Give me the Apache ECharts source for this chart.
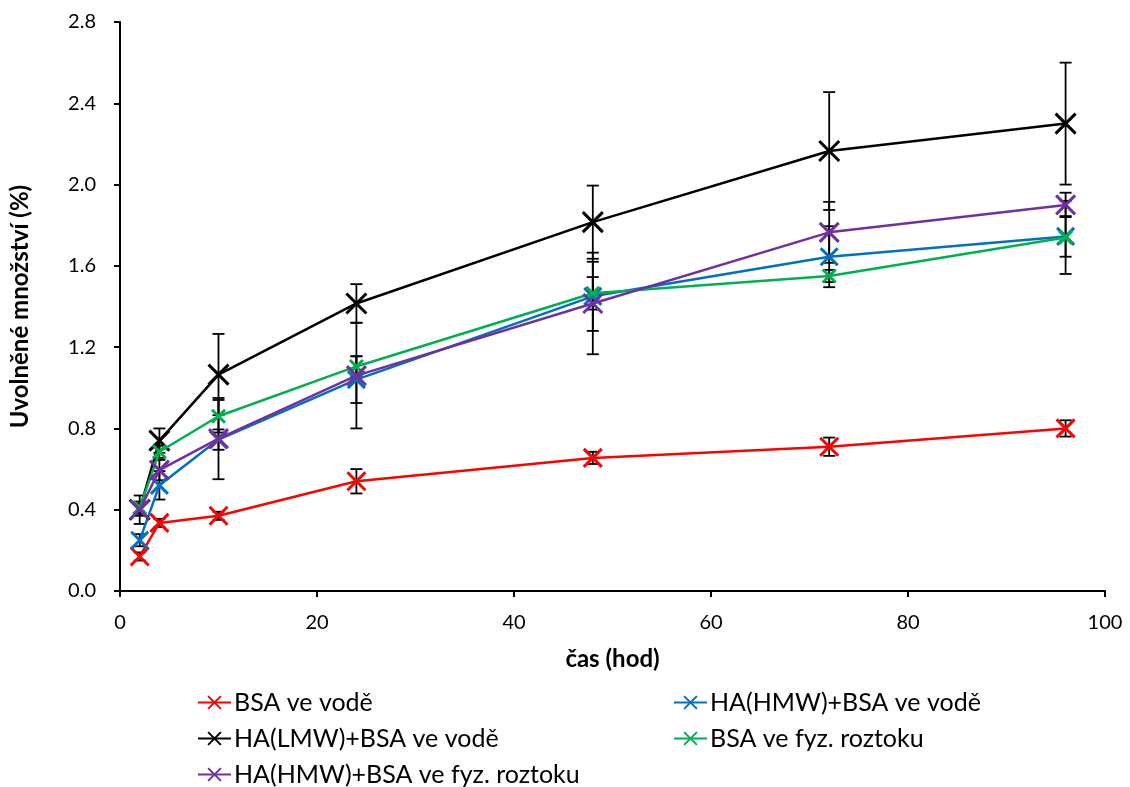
<!DOCTYPE html>
<html>
<head>
<meta charset="utf-8">
<script src="https://cdn.jsdelivr.net/npm/echarts@6/dist/echarts.min.js"></script>
<style>
html,body{margin:0;padding:0;background:#fff;}
#chart{width:1130px;height:787px;}
</style>
</head>
<body>
<div id="chart"></div>
<script>
const hours = [2, 4, 10, 24, 48, 72, 96];
const seriesNames = ['BSA ve vodě', 'HA(HMW)+BSA ve vodě', 'HA(LMW)+BSA ve vodě', 'BSA ve fyz. roztoku', 'HA(HMW)+BSA ve fyz. roztoku'];
const bsaWater      = [0.17, 0.335, 0.37, 0.54, 0.655, 0.71, 0.80];
const hmwWater      = [0.25, 0.52, 0.745, 1.04, 1.45, 1.645, 1.745];
const lmwWater      = [0.40, 0.74, 1.065, 1.415, 1.815, 2.165, 2.30];
const bsaSaline     = [0.41, 0.685, 0.86, 1.105, 1.465, 1.55, 1.74];
const hmwSaline     = [0.40, 0.595, 0.75, 1.06, 1.415, 1.765, 1.90];
const bsaWaterErr   = [0.02, 0.02, 0.02, 0.06, 0.03, 0.045, 0.04];
const hmwWaterErr   = [0.03, 0.07, 0.05, 0.115, 0.17, 0.15, 0.10];
const lmwWaterErr   = [0.07, 0.06, 0.20, 0.095, 0.18, 0.29, 0.30];
const bsaSalineErr  = [0.03, 0.03, 0.08, 0.05, 0.08, 0.03, 0.18];
const hmwSalineErr  = [0.03, 0.05, 0.20, 0.26, 0.25, 0.15, 0.06];
const yTicks = ['0.0','0.4','0.8','1.2','1.6','2.0','2.4','2.8'];

const values = [bsaWater, hmwWater, lmwWater, bsaSaline, hmwSaline];
const errors = [bsaWaterErr, hmwWaterErr, lmwWaterErr, bsaSalineErr, hmwSalineErr];
const colors = ['#ff0000', '#0070c0', '#000000', '#00b050', '#7030a0'];
const symSizes = [18, 17, 20, 13, 19];
const FONT = 'Lato';
const X = 'path://M0,0L10,10M10,0L0,10';

const chart = echarts.init(document.getElementById('chart'), null, {renderer: 'canvas'});

const series = [];
values.forEach((vals, i) => {
  series.push({
    name: 'err' + i,
    type: 'custom',
    silent: true,
    z: 1,
    data: hours.map((h, k) => [h, vals[k], errors[i][k]]),
    renderItem: function (params, api) {
      const x = api.value(0), y = api.value(1), e = api.value(2);
      const top = api.coord([x, y + e]);
      const bot = api.coord([x, y - e]);
      const w = 6;
      const st = {stroke: '#000', lineWidth: 1.8};
      return {type: 'group', children: [
        {type: 'line', shape: {x1: top[0], y1: top[1], x2: bot[0], y2: bot[1]}, style: st},
        {type: 'line', shape: {x1: top[0] - w, y1: top[1], x2: top[0] + w, y2: top[1]}, style: st},
        {type: 'line', shape: {x1: bot[0] - w, y1: bot[1], x2: bot[0] + w, y2: bot[1]}, style: st}
      ]};
    }
  });
});
values.forEach((vals, i) => {
  series.push({
    name: seriesNames[i],
    type: 'line',
    z: 2 + i,
    data: hours.map((h, k) => [h, vals[k]]),
    symbol: X,
    symbolSize: symSizes[i],
    showAllSymbol: true,
    lineStyle: {color: colors[i], width: 2.5},
    itemStyle: {color: colors[i], borderColor: colors[i], borderWidth: 3},
    emphasis: {disabled: true},
    animation: false
  });
});

const legendPos = [[197, 690], [673, 690], [197, 726], [673, 726], [197, 762]];
const legends = seriesNames.map((n, i) => ({
  data: [n],
  left: legendPos[i][0],
  top: legendPos[i][1],
  orient: 'horizontal',
  itemWidth: 33,
  itemHeight: 16,
  itemGap: 4,
  padding: 0,
  selectedMode: false,
  textStyle: {fontFamily: FONT, fontSize: 25, color: '#000', padding: [0, 0, 0, -2]}
}));

chart.setOption({
  animation: false,
  backgroundColor: '#fff',
  grid: {left: 117, right: 25, top: 22, bottom: 196, containLabel: false},
  legend: legends,
  xAxis: {
    type: 'value', min: 0, max: 100, interval: 20,
    name: 'čas (hod)', nameLocation: 'middle', nameGap: 56,
    nameTextStyle: {fontFamily: FONT, fontSize: 24, fontWeight: 'bold', color: '#000'},
    axisLine: {show: true, onZero: false, lineStyle: {color: '#000', width: 2}},
    axisTick: {show: true, inside: false, length: 6, lineStyle: {color: '#000', width: 2}},
    axisLabel: {fontFamily: FONT, fontSize: 20, color: '#000', margin: 22},
    splitLine: {show: false}
  },
  yAxis: {
    type: 'value', min: 0, max: 2.8, interval: 0.4,
    name: 'Uvolněné množství (%)', nameLocation: 'middle', nameGap: 88, nameRotate: 90,
    nameTextStyle: {fontFamily: FONT, fontSize: 24, fontWeight: 'bold', color: '#000'},
    axisLine: {show: true, lineStyle: {color: '#000', width: 2}},
    axisTick: {show: true, inside: false, length: 6, lineStyle: {color: '#000', width: 2}},
    axisLabel: {fontFamily: FONT, fontSize: 20, color: '#000', margin: 24,
      formatter: function (v) { const idx = Math.round(v / 0.4); return yTicks[idx] !== undefined ? yTicks[idx] : v.toFixed(1); }},
    splitLine: {show: false}
  },
  series: series
});
</script>
</body>
</html>
